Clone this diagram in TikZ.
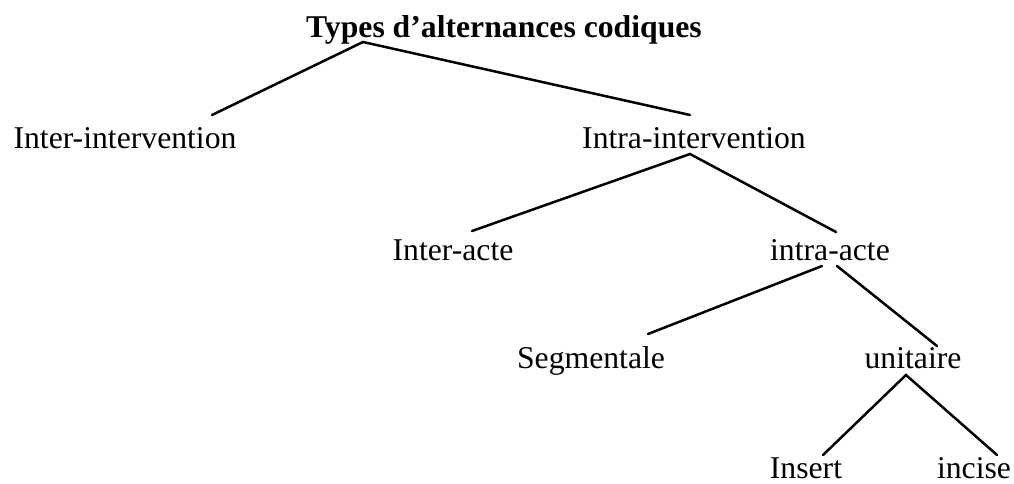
\documentclass[tikz,border=0pt]{standalone}
\usepackage{fontspec}
\setmainfont{Liberation Serif}
\usepackage{tikz}

\begin{document}
\begin{tikzpicture}[x=1pt, y=-1pt,
	leaf/.style={anchor=base, inner sep=0pt, font=\fontsize{31.7}{38}\selectfont},
	branch/.style={line width=2.5pt, line cap=round}]
	\useasboundingbox (0,0) rectangle (1014,483);
	\node[leaf, font=\fontsize{31.7}{38}\selectfont\bfseries] (types) at (504,37) {Types d'alternances codiques};
	\node[leaf] (interint) at (125,148) {Inter-intervention};
	\node[leaf] (intraint) at (694,148) {Intra-intervention};
	\node[leaf] (interacte) at (453,260) {Inter-acte};
	\node[leaf] (intraacte) at (830,260) {intra-acte};
	\node[leaf] (segm) at (591,368) {Segmentale};
	\node[leaf] (unit) at (913,368) {unitaire};
	\node[leaf] (insert) at (806,478) {Insert};
	\node[leaf] (incise) at (974,478) {incise};
	% points where the branches meet the words
	\coordinate (types-b) at (363,42);
	\coordinate (interint-t) at (212,115);
	\coordinate (intraint-t) at (690,115);
	\coordinate (intraint-b) at (690,154);
	\coordinate (interacte-t) at (472,231);
	\coordinate (intraacte-t) at (836,232);
	\coordinate (intraacte-bl) at (822,266);
	\coordinate (intraacte-br) at (837,266);
	\coordinate (segm-t) at (648,334);
	\coordinate (unit-t) at (937,346);
	\coordinate (unit-b) at (906,375);
	\coordinate (insert-t) at (823,455);
	\coordinate (incise-t) at (997,455);
	\draw[branch] (interint-t) -- (types-b) -- (intraint-t);
	\draw[branch] (interacte-t) -- (intraint-b) -- (intraacte-t);
	\draw[branch] (intraacte-bl) -- (segm-t);
	\draw[branch] (intraacte-br) -- (unit-t);
	\draw[branch] (insert-t) -- (unit-b) -- (incise-t);
\end{tikzpicture}
\end{document}
